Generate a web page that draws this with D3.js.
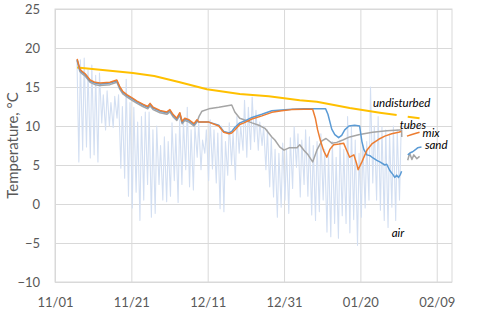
<!DOCTYPE html>
<html lang="en">

<head>
    <meta charset="UTF-8">
    <title>Temperature: undisturbed, tubes, mix, sand, air</title>
    <script src="https://d3js.org/d3.v7.min.js"></script>
    <style>
        body {
            margin: 0;
            background: #fff;
        }

        text {
            font-family: Lato, "Open Sans", sans-serif;
        }

        .axis text {
            font-size: 13px;
            fill: #595959;
        }

        .axis line {
            stroke: #d9d9d9;
        }

        .series-label {
            font-size: 11.5px;
            font-style: italic;
            fill: #000;
        }
    </style>
</head>

<body>

    <svg id="chart" width="480" height="314"></svg>

    <script>
        // x values are days after 11/01
        const xTickDays = [0, 20, 40, 60, 80, 100];
        const xTickLabels = ["11/01", "11/21", "12/11", "12/31", "01/20", "02/09"];
        const yTicks = [-10, -5, 0, 5, 10, 15, 20, 25];

        // [day, °C], null = gap in the logger record
        const undisturbed = [[5.8, 17.5], [11.8, 17.2], [20.4, 16.8], [26.0, 16.4], [32.7, 15.6], [39.8, 14.7],
            [48.4, 14.1], [56.0, 13.8], [64.1, 13.3], [68.6, 13.1], [77.2, 12.3], [85.1, 11.7], [89.5, 11.4],
            null, [92.4, 11.2], [95.5, 11.0]];

        const tubes = [[5.8, 18.5], [6.5, 17.2], [7.1, 16.9], [7.9, 16.6], [9.2, 15.8], [10.5, 15.5], [11.8, 15.4],
            [14.4, 15.5], [16.2, 15.8], [17.0, 14.9], [17.8, 14.3], [18.9, 13.9], [20.2, 13.5], [21.5, 13.1],
            [23.0, 12.7], [24.3, 12.4], [24.9, 12.8], [25.7, 12.3], [27.5, 11.9], [29.3, 11.7], [30.1, 12.0],
            [30.9, 11.4], [31.9, 10.9], [32.7, 11.6], [33.3, 10.5], [34.0, 10.9], [35.1, 10.7], [36.4, 10.2],
            [37.2, 10.7], [37.7, 10.5], [40.3, 10.5], [42.9, 10.1], [44.2, 9.3], [45.6, 9.1], [46.3, 9.3],
            [47.1, 9.8], [48.4, 10.4], [49.5, 10.6], [51.6, 11.1], [54.2, 11.5], [56.8, 11.95], [59.4, 12.05],
            [62.0, 12.15], [65.2, 12.2], [70.9, 12.2], [71.5, 11.5], [72.5, 9.6], [73.3, 8.9], [74.3, 8.5],
            [75.1, 8.8], [75.9, 9.5], [77.0, 10.0], [78.5, 10.1], [79.8, 10.0], [80.4, 8.0], [80.9, 7.0],
            [81.7, 6.3], [82.5, 6.2], [83.3, 5.9], [84.3, 5.6], [85.1, 5.4], [86.4, 5.0], [86.9, 5.1],
            [87.7, 4.3], [88.5, 3.8], [89.0, 3.4], [89.5, 3.7], [90.0, 3.4], [90.5, 3.8], [90.8, 4.2],
            null, [92.4, 6.3], [93.2, 6.6], [93.7, 6.7], [94.5, 7.0], [95.0, 7.2], [96.0, 7.3]];

        const mix = [[5.8, 18.6], [6.5, 17.3], [7.1, 17.0], [7.9, 16.7], [9.2, 15.9], [10.5, 15.6], [11.8, 15.5],
            [14.4, 15.6], [16.2, 15.9], [17.0, 15.0], [17.8, 14.4], [18.9, 14.0], [20.2, 13.6], [21.5, 13.2],
            [23.0, 12.8], [24.3, 12.5], [24.9, 12.9], [25.7, 12.4], [27.5, 12.0], [29.3, 11.8], [30.1, 12.1],
            [30.9, 11.5], [31.9, 11.0], [32.7, 11.7], [33.3, 10.6], [34.0, 11.0], [35.1, 10.8], [36.4, 10.3],
            [37.2, 10.8], [37.7, 10.5], [40.3, 10.5], [42.9, 10.0], [44.2, 9.2], [45.6, 9.0], [46.3, 9.1],
            [47.1, 9.5], [48.4, 10.2], [49.5, 10.4], [51.6, 10.9], [54.2, 11.3], [56.8, 11.75], [59.4, 11.95],
            [62.0, 12.1], [65.2, 12.15], [67.5, 12.15], [68.2, 11.0], [68.8, 9.5], [69.6, 8.0], [70.4, 6.8],
            [71.2, 6.0], [72.0, 7.0], [73.0, 7.6], [74.4, 7.7], [75.6, 7.8], [76.4, 6.9], [77.2, 6.0],
            [78.3, 6.3], [79.0, 5.2], [79.4, 4.4], [80.4, 5.4], [81.7, 6.9], [83.0, 7.7], [84.8, 8.3],
            [86.4, 8.7], [88.2, 9.0], [90.0, 9.2], [90.7, 9.3],
            null, [92.2, 8.7], [93.5, 8.9], [94.8, 9.1], [95.5, 9.2]];

        const sand = [[5.8, 18.4], [6.5, 17.0], [7.1, 16.7], [7.9, 16.4], [9.2, 15.6], [10.5, 15.3], [11.8, 15.2],
            [14.4, 15.3], [16.2, 15.6], [17.0, 14.7], [17.8, 14.1], [18.9, 13.7], [20.2, 13.3], [21.5, 12.9],
            [23.0, 12.5], [24.3, 12.2], [24.9, 12.6], [25.7, 12.1], [27.5, 11.7], [29.3, 11.5], [30.1, 11.8],
            [30.9, 11.2], [31.9, 10.7], [32.7, 11.4], [33.3, 10.3], [34.0, 10.7], [35.1, 10.5], [36.4, 10.0],
            [37.2, 10.5], [37.7, 11.2], [38.5, 11.9], [40.3, 12.2], [42.9, 12.4], [46.3, 12.7], [47.1, 11.8],
            [48.4, 11.0], [49.5, 10.8], [51.6, 10.4], [53.4, 10.1], [55.0, 9.7], [56.8, 8.6], [57.6, 8.2],
            [58.9, 7.3], [60.0, 6.9], [61.3, 7.2], [63.4, 7.2], [64.1, 7.6], [65.2, 6.9], [66.3, 6.3],
            [67.5, 5.4], [68.6, 6.9], [69.9, 8.1], [71.0, 8.4], [72.5, 7.8], [73.8, 7.9], [75.4, 8.2],
            [77.2, 8.6], [79.8, 8.9], [83.2, 9.2], [86.9, 9.4], [90.3, 9.5], [90.8, 9.5], [90.85, 8.6],
            null, [92.4, 5.6], [92.9, 6.5], [93.5, 5.7], [94.0, 6.3], [94.8, 5.8], [95.5, 6.1]];

        // air: one daily low and high per day
        const airDays = [6, 7, 8, 9, 10, 11, 12, 13, 14, 15, 16, 17, 18, 19, 20, 21, 22, 23, 24, 25, 26, 27, 28, 29,
            30, 31, 32, 33, 34, 35, 36, 37, 38, 39, 40, 41, 42, 43, 44, 45, 46, 47, 48, 49, 50, 51, 52, 53, 54,
            55, 56, 57, 58, 59, 60, 61, 62, 63, 64, 65, 66, 67, 68, 69, 70, 71, 72, 73, 74, 75, 76, 77, 78, 79,
            80, 81, 82, 83, 84, 85, 86, 87, 88, 89, 90];
        const airLow = [5.4, 6.9, 7.3, 5.9, 6.3, 5.4, 10.4, 9.5, 10.0, 9.8, 11.0, 4.6, 3.3, 1.0, -0.5, 1.5, -2.1,
            0.5, 2.5, -1.7, -1.2, 2.5, 0.5, 0.3, 1.0, 3.0, 0.2, 2.5, 4.4, 2.2, 1.8, 6.0, 4.4, 6.5, 3.0, 4.5, 2.7,
            -0.6, -1.0, 3.7, 5.0, 3.1, 6.5, 6.9, 6.0, 7.0, 8.0, 6.9, 7.5, 4.4, 2.2, 0.9, -1.7, -0.4, 0.5, -1.2,
            2.0, 4.7, 0.9, 2.5, 1.0, -1.4, -2.1, -1.0, 0.5, -3.6, -4.2, -2.5, -4.4, -1.5, -2.5, -3.7, -2.0, -5.3,
            -1.7, -0.5, 0.5, 2.7, 0.5, -0.8, -2.1, -3.0, -0.4, -2.1, 0.5];
        const airHigh = [18.5, 18.7, 17.2, 17.8, 16.5, 16.8, 14.0, 14.5, 13.0, 13.8, 14.0, 12.5, 16.0, 13.0, 12.4,
            10.5, 11.2, 11.8, 11.8, 9.5, 10.0, 7.5, 8.6, 8.0, 10.4, 9.0, 10.8, 10.5, 12.4, 9.5, 10.0, 10.4, 8.2,
            9.5, 10.8, 9.5, 9.1, 10.0, 8.0, 10.4, 9.2, 11.2, 10.0, 13.3, 12.4, 13.7, 12.0, 10.5, 10.0, 9.5, 8.5,
            7.0, 6.5, 7.8, 6.9, 8.5, 9.9, 9.0, 8.2, 9.5, 8.6, 7.5, 8.0, 9.0, 7.0, 6.5, 8.0, 6.0, 8.2, 7.0, 11.2,
            9.9, 8.2, 6.5, 7.5, 8.0, 15.0, 10.0, 11.2, 9.9, 9.5, 9.0, 10.0, 9.5, 9.0];

        const seriesLabels = [
            { text: "undisturbed", day: 83.3, temp: 12.4 },
            { text: "tubes", day: 90.3, temp: 9.6 },
            { text: "mix", day: 96.3, temp: 8.6 },
            { text: "sand", day: 96.9, temp: 7.05 },
            { text: "air", day: 88.2, temp: -4.2 }
        ];

        const svg = d3.select("#chart"),
            margin = { top: 9, right: 28, bottom: 32, left: 55 },
            width = +svg.attr("width") - margin.left - margin.right,
            height = +svg.attr("height") - margin.top - margin.bottom;

        const g = svg.append("g").attr("transform", `translate(${margin.left},${margin.top})`);

        const x = d3.scaleLinear().domain([0, 104]).range([0, width]);
        const y = d3.scaleLinear().domain([-10, 25]).range([height, 0]);

        // gridlines + tick labels
        const yAxis = g.append("g")
            .attr("class", "axis")
            .call(d3.axisLeft(y).tickValues(yTicks).tickSize(-width).tickPadding(15));
        yAxis.select(".domain").remove();

        const xAxis = g.append("g")
            .attr("class", "axis")
            .attr("transform", `translate(0,${height})`)
            .call(d3.axisBottom(x).tickValues(xTickDays)
                .tickFormat((d, i) => xTickLabels[i])
                .tickSize(-height).tickPadding(16));
        xAxis.select(".domain").remove();

        g.append("rect")
            .attr("width", width)
            .attr("height", height)
            .attr("fill", "none")
            .attr("stroke", "#d9d9d9");

        svg.append("text")
            .attr("transform", `translate(13,${margin.top + height / 2}) rotate(-90)`)
            .attr("text-anchor", "middle")
            .attr("dy", "0.35em")
            .style("font-size", "15px")
            .style("fill", "#595959")
            .text("Temperature, °C");

        // air as alternating daily low / high
        const air = [[5.76, 18.5]];
        airDays.forEach((d, i) => {
            air.push([d + 0.25, airLow[i]]);
            air.push([d + 0.65, airHigh[i]]);
        });

        const line = d3.line()
            .defined(d => d !== null)
            .x(d => x(d[0]))
            .y(d => y(d[1]));

        const series = [
            { data: air, color: "#d3dff2", width: 1.1 },
            { data: undisturbed, color: "#ffc000", width: 2 },
            { data: sand, color: "#a5a5a5", width: 1.5 },
            { data: tubes, color: "#5b9bd5", width: 1.5 },
            { data: mix, color: "#ed7d31", width: 1.5 }
        ];

        g.selectAll(".series")
            .data(series)
            .enter().append("path")
            .attr("class", "series")
            .attr("d", d => line(d.data))
            .attr("fill", "none")
            .attr("stroke", d => d.color)
            .attr("stroke-width", d => d.width)
            .attr("stroke-linejoin", "round");

        g.selectAll(".series-label")
            .data(seriesLabels)
            .enter().append("text")
            .attr("class", "series-label")
            .attr("x", d => x(d.day))
            .attr("y", d => y(d.temp))
            .text(d => d.text);
    </script>

</body>

</html>
